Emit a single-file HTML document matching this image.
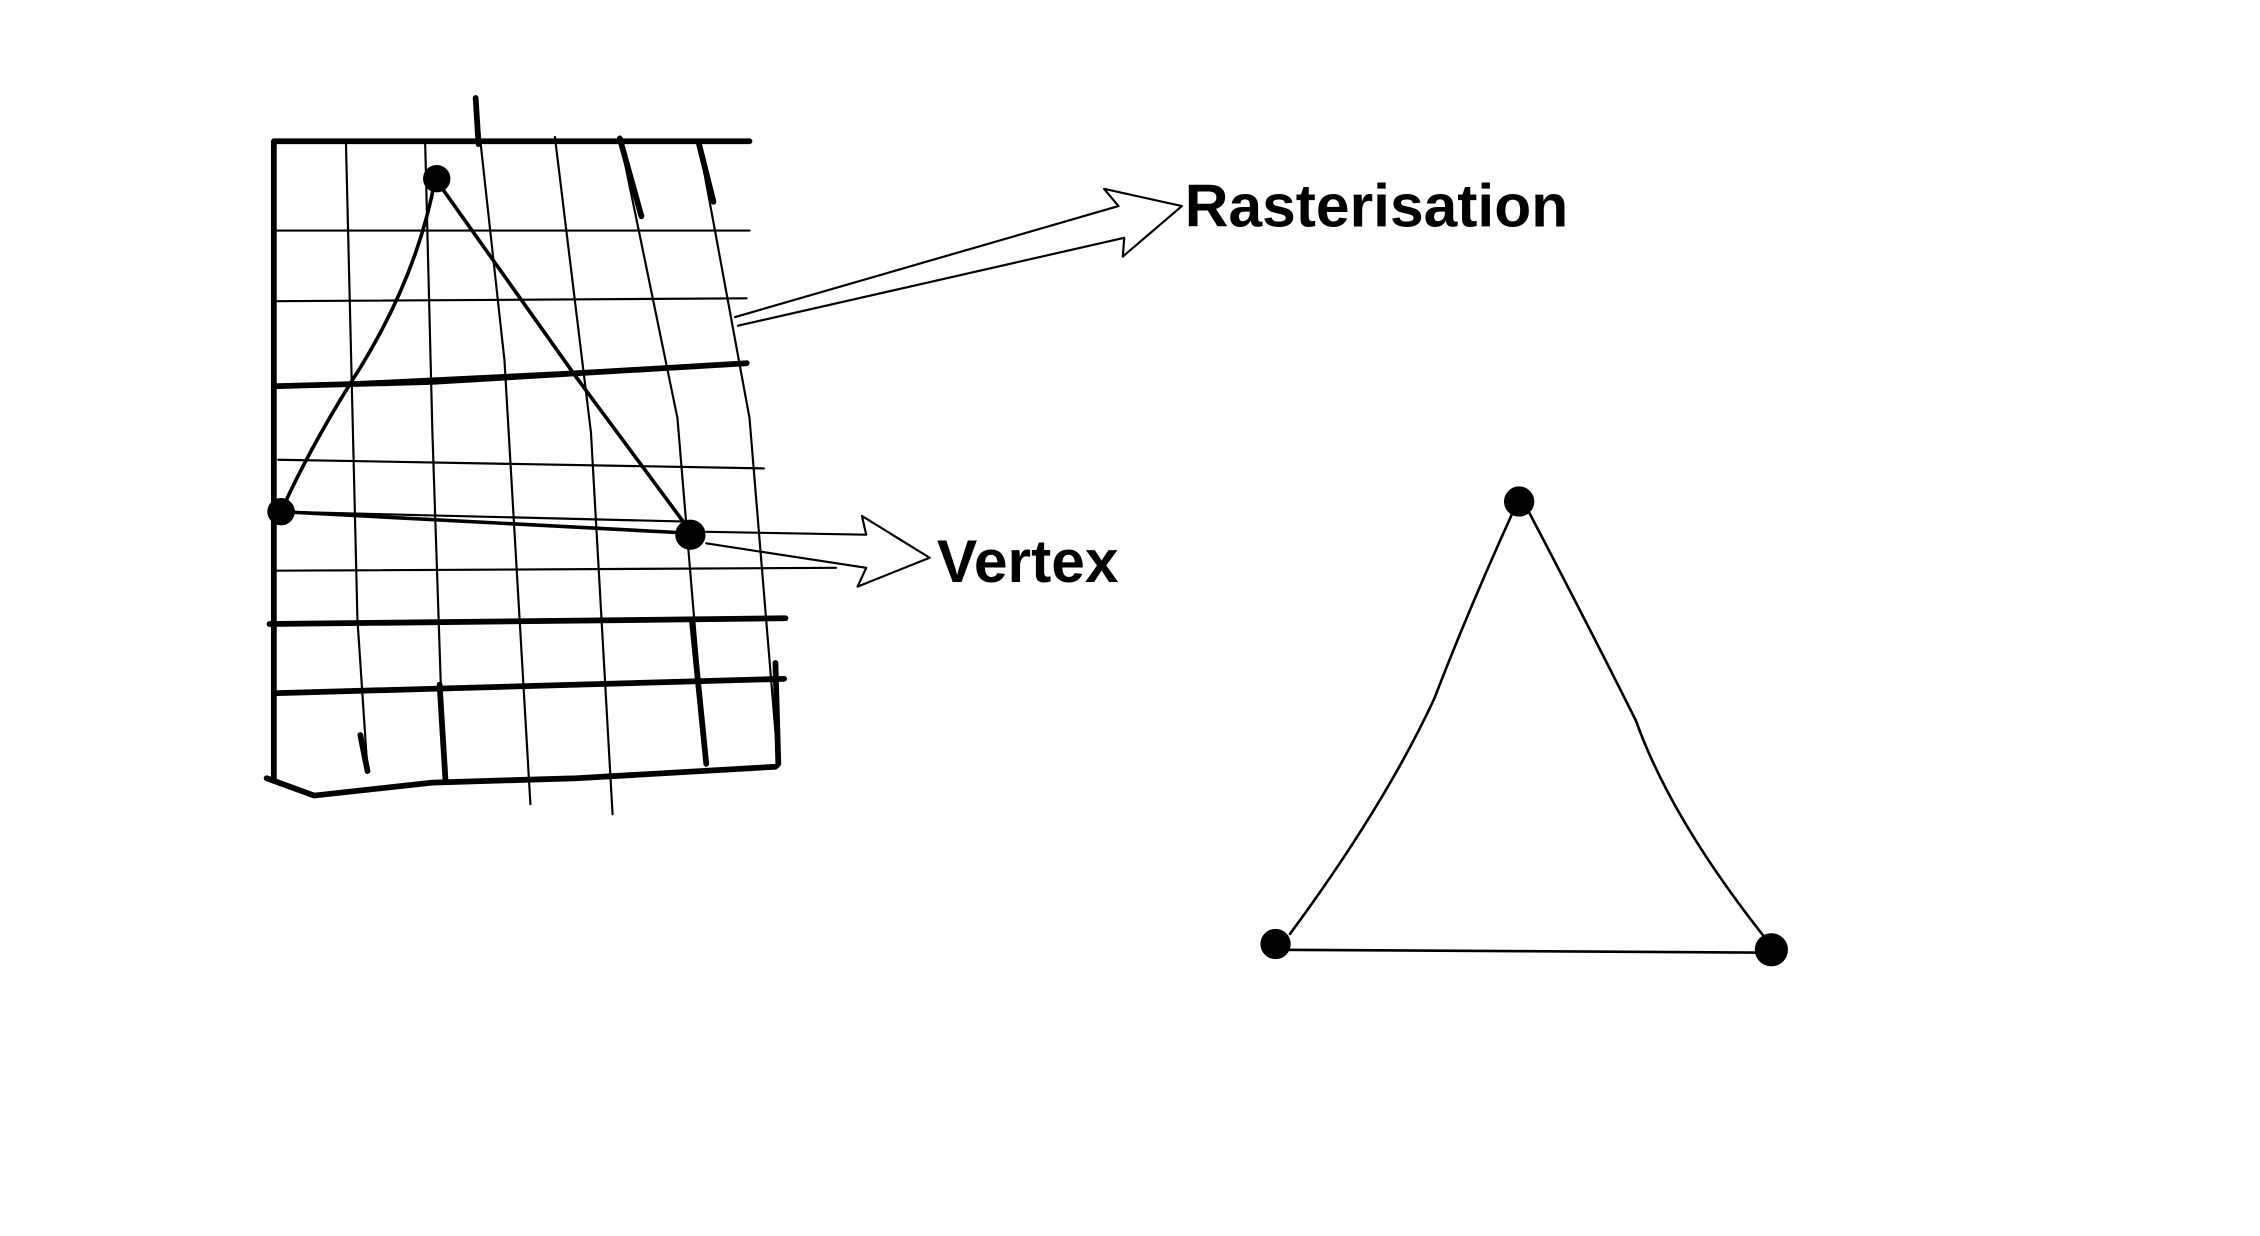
<!DOCTYPE html>
<html><head><meta charset="utf-8"><style>
html,body{margin:0;padding:0;background:#fff;width:2260px;height:1236px;overflow:hidden}
svg{display:block}
text{font-family:"Liberation Sans",sans-serif;font-weight:bold;fill:#000}
</style></head><body>
<svg width="2260" height="1236" viewBox="0 0 1568 857.6" preserveAspectRatio="none" stroke="#000" fill="none" stroke-linecap="round" stroke-linejoin="round">
<g>
 <path stroke-width="1.5" d="M190 160 L520 160 M190 209 L518 207 M190 268 L518 252 M193 319 L530 325 M190 396 L580 394 M187 433 L545 429 M190 481 L544 471 M192 355 L480 362"/>
 <path stroke-width="4" d="M190 98 L520 98 M185 540 L218 552 L300 543 L400 540 L538 532 M190 268 L300 265 L518 252 M187 433 L545 429 M190 481 L544 471 M190 98 L190 540"/>
 <path stroke-width="1.5" d="M240 98 L248 430 L255 535 M295 100 L300 300 L308 540 M330 68 L350 250 L368 558 M385 95 L410 300 L425 565 M430 96 L470 290 L490 530 M485 100 L520 290 L540 532"/>
 <path stroke-width="4" d="M330 68 L332 100 M430 96 L445 150 M485 100 L495 140 M250 510 L255 535 M305 475 L309 540 M480 430 L490 530 M538 460 L540 530"/>
</g>
<g>
 <path stroke-width="2.5" d="M302 124 Q290 190 250 255 Q215 310 195 355 M302 124 L400 262 L480 370 M195 355 L480 370"/>
 <circle cx="303" cy="124" r="9" fill="#000"/>
 <circle cx="195" cy="355" r="9" fill="#000"/>
 <circle cx="479" cy="371" r="10" fill="#000"/>
</g>
<g stroke-width="1.5">
 <path d="M510 220 L776 143 L766 131 L820 143 L779 178 L780 165 L512 226"/>
</g>
<g stroke-width="1.5">
 <path d="M490 369 L601 371 L598 358 L645 387 L595 407 L601 394 L490 377"/>
</g>
<text x="822" y="157" font-size="42" stroke="none">Rasterisation</text>
<text x="650" y="404" font-size="42" stroke="none">Vertex</text>
<g>
 <path stroke-width="1.8" d="M1053 348 Q1020 420 995 485 Q960 560 895 648 M1058 350 Q1100 430 1135 500 Q1160 570 1228 655 M888 659 L1228 661"/>
 <circle cx="1054" cy="348" r="10" fill="#000"/>
 <circle cx="885" cy="655" r="10" fill="#000"/>
 <circle cx="1229" cy="659" r="11" fill="#000"/>
</g>
</svg>
</body></html>
